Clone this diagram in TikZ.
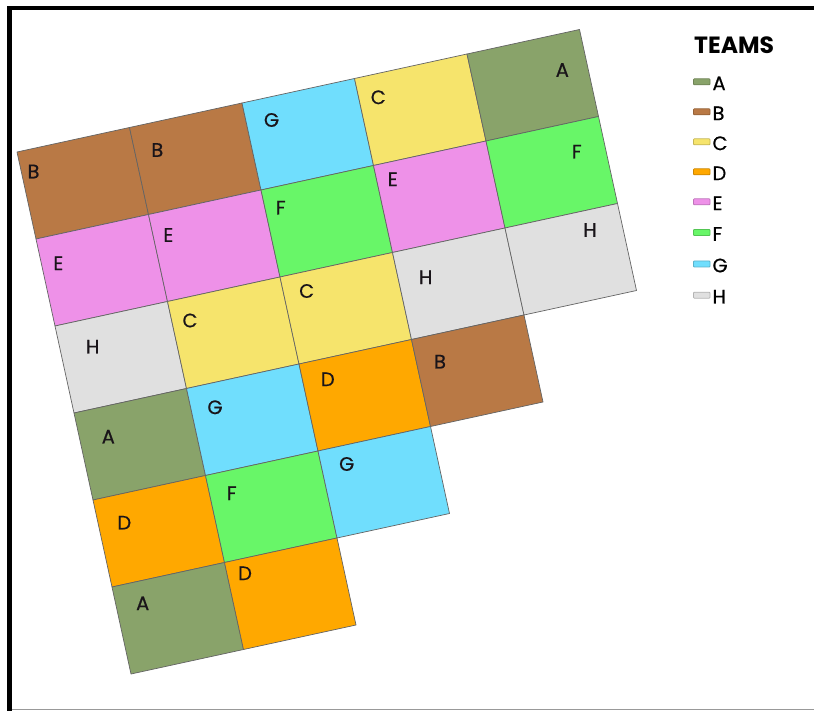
\documentclass[tikz,border=0pt]{standalone}
\usepackage{fontspec}
\setmainfont{Poppins}
\newfontfamily\labfont{Poppins}[FakeBold=0.5]
\definecolor{cA}{RGB}{137,163,106}
\definecolor{cB}{RGB}{185,121,69}
\definecolor{cC}{RGB}{246,228,108}
\definecolor{cD}{RGB}{255,168,0}
\definecolor{cE}{RGB}{238,145,232}
\definecolor{cF}{RGB}{104,246,104}
\definecolor{cG}{RGB}{112,222,253}
\definecolor{cH}{RGB}{224,224,224}
\definecolor{gridline}{RGB}{100,100,100}
\definecolor{labtext}{RGB}{25,20,25}
\tikzset{
  cellstyle/.style={draw=gridline, line width=0.7pt, line join=round},
  lab/.style={font=\labfont\fontsize{19.5}{21}\selectfont, inner sep=0pt, text=labtext},
  legtext/.style={font=\labfont\fontsize{19.5}{21}\selectfont, inner sep=0pt, anchor=west, text=black},
  swatch/.style={line width=0.8pt, rounded corners=0.8pt},
}
\begin{document}
\begin{tikzpicture}[x=1pt, y=-1pt]
\useasboundingbox (0,0) rectangle (814,711);
\fill[white] (0,0) rectangle (814,711);
% frame
\fill[black] (7,6) rectangle (814,10);
\fill[black] (7,6) rectangle (12,711);
\fill[black!40] (12,708.6) rectangle (814,710.2);
% grid
\begin{scope}[shift={(17,152)}, x={(112.5pt,24.5pt)}, y={(19pt,-87pt)}]
  \foreach \c/\r/\col in {0/0/cB,1/0/cB,2/0/cG,3/0/cC,4/0/cA,
                          0/1/cE,1/1/cE,2/1/cF,3/1/cE,4/1/cF,
                          0/2/cH,1/2/cC,2/2/cC,3/2/cH,4/2/cH,
                          0/3/cA,1/3/cG,2/3/cD,3/3/cB,
                          0/4/cD,1/4/cF,2/4/cG,
                          0/5/cA,1/5/cD}
    \filldraw[cellstyle, fill=\col] (\c,\r) -- ++(1,0) -- ++(0,1) -- ++(-1,0) -- cycle;
\end{scope}
% labels
\node[lab] (l00) at (33.5,171.5) {B};
\node[lab] (l01) at (157.3,150) {B};
\node[lab] (l02) at (271.5,120) {G};
\node[lab] (l03) at (378.3,97.3) {C};
\node[lab] (l04) at (562.3,70) {A};
\node[lab] (l10) at (58.3,263.3) {E};
\node[lab] (l11) at (168.3,235) {E};
\node[lab] (l12) at (280.7,207.7) {F};
\node[lab] (l13) at (392.7,179.3) {E};
\node[lab] (l14) at (576.7,151.7) {F};
\node[lab] (l20) at (92.7,346.7) {H};
\node[lab] (l21) at (190,320.5) {C};
\node[lab] (l22) at (306.7,291) {C};
\node[lab] (l23) at (425.7,277.3) {H};
\node[lab] (l24) at (590,230) {H};
\node[lab] (l30) at (108.3,436.7) {A};
\node[lab] (l31) at (215,407.3) {G};
\node[lab] (l32) at (327.8,379.3) {D};
\node[lab] (l33) at (440,361.7) {B};
\node[lab] (l40) at (124.3,522.7) {D};
\node[lab] (l41) at (231.7,493.3) {F};
\node[lab] (l42) at (346.7,464) {G};
\node[lab] (l50) at (142.7,603.3) {A};
\node[lab] (l51) at (245,573.3) {D};
% legend
\node[font=\fontsize{23.5}{25}\selectfont\bfseries, inner sep=0pt, anchor=west] (title) at (694,45) {TEAMS};
\foreach \t/\yy/\col in {A/83.3/cA, B/113.3/cB, C/143.3/cC, D/173.3/cD, E/203.3/cE, F/234/cF, G/265.5/cG, H/296.7/cH}{
  \filldraw[swatch, fill=\col, draw=\col!80!black] (693.5,\yy-4.5) rectangle (710,\yy+1.5);
  \node[legtext] (leg\t) at (712.3,\yy) {\t};
}
\end{tikzpicture}
\end{document}
